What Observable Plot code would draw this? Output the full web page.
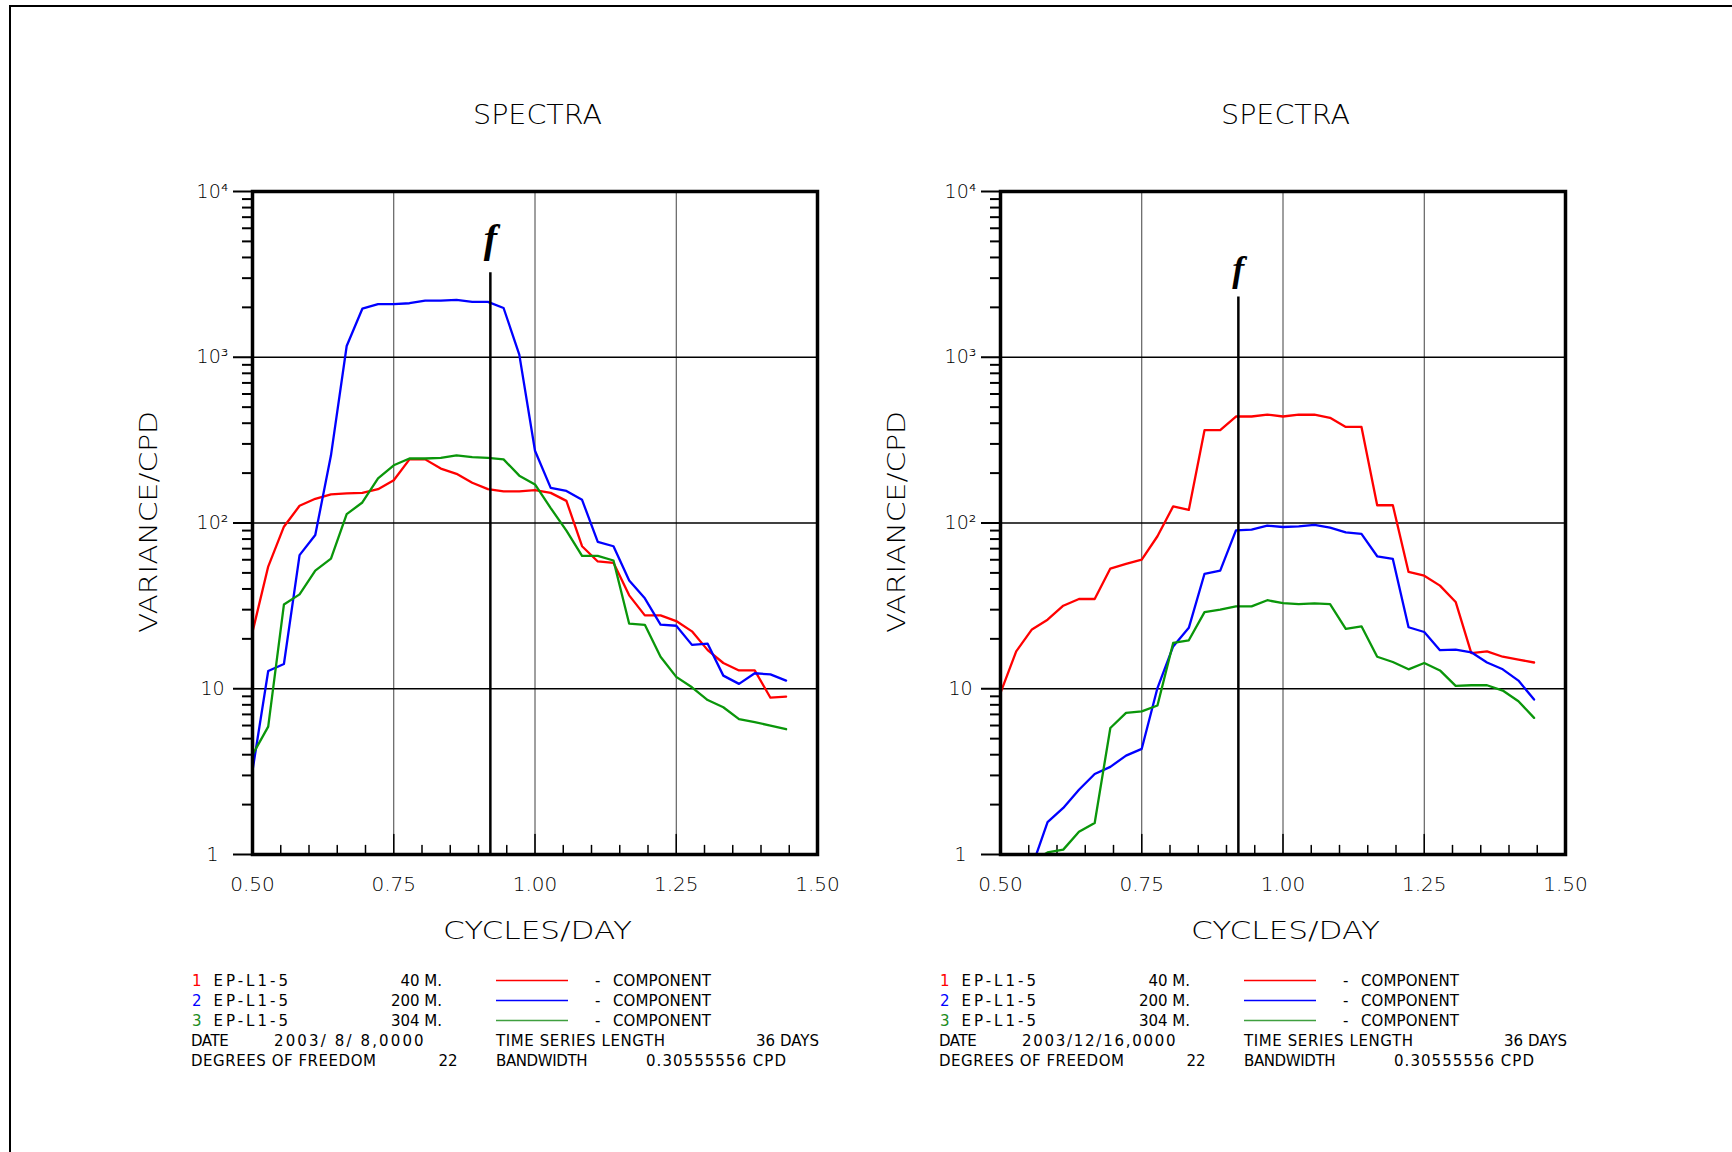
<!DOCTYPE html>
<html>
<head>
<meta charset="utf-8">
<script src="https://cdn.jsdelivr.net/npm/d3@7"></script>
<script src="https://cdn.jsdelivr.net/npm/@observablehq/plot@0.6"></script>
<style>
html,body{margin:0;padding:0;background:#fff;}
#page{position:relative;width:1732px;height:1152px;overflow:hidden;background:#fff;}
#page svg{max-width:none;}
.plot{position:absolute;}
#overlay{position:absolute;left:0;top:0;}
</style>
</head>
<body>
<div id="page"></div>
<script>
// ---------------- data ----------------
const freqs = [0.5000,0.5278,0.5556,0.5833,0.6111,0.6389,0.6667,0.6944,0.7222,0.7500,
  0.7778,0.8056,0.8333,0.8611,0.8889,0.9167,0.9444,0.9722,1.0000,1.0278,
  1.0556,1.0833,1.1111,1.1389,1.1667,1.1944,1.2222,1.2500,1.2778,1.3056,
  1.3333,1.3611,1.3889,1.4167,1.4444];

// panel 1 (2003/8/8)
const augRed   = [22.0,54.6,95,127,140,149,151,152,160,181,242,242,213,198,175,160,155,155,158,152,136,72.4,58.6,57.5,36.6,27.7,27.7,25.6,22.2,17.1,14.3,12.9,12.9,8.83,8.96];
const augBlue  = [3.2,12.8,14.1,64,84.7,256,1169,1963,2089,2089,2118,2198,2198,2218,2158,2158,1982,1038,273,163,156,138,76.9,72.4,45.0,35.1,24.4,24.0,18.4,18.7,12.0,10.7,12.4,12.2,11.2];
const augGreen = [3.99,5.91,32.2,37.1,51.6,61.0,113,133,186,223,245,245,247,256,250,247,242,193,171,123,90,63.4,63.4,59.4,24.7,24.3,15.6,11.8,10.2,8.55,7.73,6.55,6.28,6.0,5.70];

// panel 2 (2003/12/16)
const decRed   = [9.44,16.8,22.8,26.1,31.7,34.8,34.8,53.1,56.6,60.2,83.2,126,120,363,363,439,439,451,439,451,450,431,380,380,128,128,50.7,48.1,41.9,33.4,16.4,16.8,15.6,15.0,14.4];
const decBlue  = [null,null,0.84,1.57,1.91,2.46,3.06,3.38,3.95,4.34,10.1,18.0,23.3,49.4,51.6,90.3,91.2,96.3,94.6,95.5,97.3,93.7,87.8,85.9,63.0,60.7,23.5,22.0,17.1,17.2,16.6,14.4,13.1,11.2,8.61];
const decGreen = [null,null,0.9,1.03,1.07,1.37,1.55,5.8,7.15,7.31,7.92,18.9,19.6,29.0,30.0,31.4,31.4,34.2,32.9,32.4,32.7,32.4,23.0,23.8,15.6,14.5,13.1,14.3,12.9,10.4,10.5,10.5,9.75,8.41,6.67];

const seriesNames  = ["1", "2", "3"];
const seriesColors = ["#ff0000", "#0000ff", "#0a960a"];
const legendColors = ["#ff0000", "#0000ff", "#1c8c1c"];
const legendLineColors = ["#ff0000", "#0000ff", "#3f9f3f"];
const stations = ["EP-L1-5", "EP-L1-5", "EP-L1-5"];
const depths   = ["40 M.", "200 M.", "304 M."];
const dates    = ["2003/ 8/ 8,0000", "2003/12/16,0000"];
const seriesLength = "36 DAYS";
const dof = "22";
const bandwidth = "0.30555556 CPD";

const xTicks = [0.5, 0.75, 1.0, 1.25, 1.5];
const xGrid  = [0.75, 1.0, 1.25];
const xMinor = [0.55,0.6,0.65,0.7,0.8,0.85,0.9,0.95,1.05,1.1,1.15,1.2,1.3,1.35,1.4,1.45];
const yTicks = [1, 10, 100, 1000, 10000];
const yTickLabels = ["1", "10", "10²", "10³", "10⁴"];
const yGrid  = [10, 100, 1000];
const yMinor = [2,3,4,5,6,7,8,9,20,30,40,50,60,70,80,90,200,300,400,500,600,700,800,900,2000,3000,4000,5000,6000,7000,8000,9000];

const inertialFreq = 0.921;
const fLineTop = [3230, 2310];
const fLabelY  = [4300, 2870];
const fLabelSize = [40, 36];

const panels = [
  {series: [augRed, augBlue, augGreen], date: dates[0]},
  {series: [decRed, decBlue, decGreen], date: dates[1]}
];

// ---------------- layout ----------------
const FONT = "DejaVu Sans";
const LIGHT = 200;
const frameLefts = [251.5, 999.7];
const frameTop = 191, frameW = 565, frameH = 663;
const mL = 70, mR = 14, mT = 14, mB = 50;
const page = document.getElementById("page");

const tickShape = {draw(ctx, l) { ctx.moveTo(0, 0); ctx.lineTo(0, -l); }};

panels.forEach((p, pi) => {
  const rows = [];
  p.series.forEach((vals, si) => {
    vals.forEach((v, i) => { if (v != null) rows.push({f: freqs[i], v, s: seriesNames[si]}); });
  });
  const chart = Plot.plot({
    width: frameW + mL + mR,
    height: frameH + mT + mB,
    marginLeft: mL, marginRight: mR, marginTop: mT, marginBottom: mB,
    style: {background: "transparent", overflow: "visible", fontFamily: FONT, fontWeight: LIGHT, color: "#000"},
    x: {domain: [0.5, 1.5]},
    y: {type: "log", domain: [1, 10000]},
    color: {domain: seriesNames, range: seriesColors},
    marks: [
      Plot.ruleX(xGrid, {stroke: "#000", strokeWidth: 1, strokeOpacity: 0.75}),
      Plot.ruleY(yGrid, {stroke: "#000", strokeWidth: 1.6}),
      Plot.axisY({ticks: yTicks, tickSize: 19, tickFormat: () => "", strokeWidth: 2, label: null}),
      Plot.axisY({ticks: yMinor, tickSize: 10, tickFormat: () => "", strokeWidth: 2, label: null}),
      Plot.text(yTicks, {y: d => d, text: (d, i) => yTickLabels[i], frameAnchor: "left", dx: -40, textAnchor: "middle", fontSize: 19, fontWeight: LIGHT, fill: "#000"}),
      Plot.axisX({ticks: xTicks, tickSize: 0, tickPadding: 22, tickFormat: d3.format(".2f"), fontSize: 20, fontWeight: LIGHT, label: null}),
      Plot.vector(xMinor, {x: d => d, y: () => 1, length: 9, anchor: "start", shape: tickShape, stroke: "#000", strokeWidth: 1.5}),
      Plot.vector(xGrid, {x: d => d, y: () => 1, length: 20, anchor: "start", shape: tickShape, stroke: "#000", strokeWidth: 1.5}),
      Plot.line(rows, {x: "f", y: "v", stroke: "s", strokeWidth: 2.3, clip: true}),
      Plot.ruleX([inertialFreq], {y1: 1, y2: fLineTop[pi], stroke: "#000", strokeWidth: 2.5}),
      Plot.text([inertialFreq], {x: d => d, y: () => fLabelY[pi], text: () => "f", fontFamily: "Liberation Serif", fontStyle: "italic", fontWeight: "bold", fontSize: fLabelSize[pi], lineAnchor: "bottom", textAnchor: "middle", fill: "#000"}),
      Plot.frame({stroke: "#000", strokeWidth: 3.5})
    ]
  });
  chart.classList.add("plot");
  chart.style.left = (frameLefts[pi] - mL) + "px";
  chart.style.top = (frameTop - mT) + "px";
  page.appendChild(chart);
});

// ---------------- overlay text (titles, axis titles, legend) ----------------
function txt(x, y, s, o = {}) {
  const size = o.size || 15;
  const anchor = o.anchor || "start";
  const fill = o.fill || "#000";
  const weight = o.weight || 400;
  const tl = o.len ? ` textLength="${o.len}" lengthAdjust="${o.adj || "spacing"}"` : "";
  const tr = o.rotate ? ` transform="translate(${x},${y}) rotate(${o.rotate})"` : "";
  const pos = o.rotate ? ` x="0" y="0"` : ` x="${x}" y="${y}"`;
  return `<text${pos}${tr} font-family="${FONT}" font-weight="${weight}" font-size="${size}" text-anchor="${anchor}" fill="${fill}"${tl}>${s}</text>`;
}
let svg = `<svg id="overlay" width="1732" height="1152" xmlns="http://www.w3.org/2000/svg">`;
svg += `<path d="M1732,6H10V1152" fill="none" stroke="#000" stroke-width="2"/>`;
const offsets = [0, 748];
offsets.forEach((o, pi) => {
  svg += txt(537.5 + o, 124, "SPECTRA", {size: 27, anchor: "middle", len: 129, adj: "spacingAndGlyphs", weight: LIGHT});
  svg += txt(537.5 + o, 939, "CYCLES/DAY", {size: 24, anchor: "middle", len: 189, adj: "spacingAndGlyphs", weight: LIGHT});
  svg += txt(156.7 + o, 522, "VARIANCE/CPD", {size: 25, anchor: "middle", len: 222, adj: "spacingAndGlyphs", rotate: -90, weight: LIGHT});
  const base = [986, 1006, 1026, 1046, 1065.5];
  for (let r = 0; r < 3; r++) {
    svg += txt(192 + o, base[r], seriesNames[r], {fill: legendColors[r]});
    svg += txt(213.4 + o, base[r], stations[r], {len: 74.6});
    svg += txt(442 + o, base[r], depths[r], {anchor: "end"});
    svg += `<line x1="${496 + o}" x2="${568 + o}" y1="${base[r] - 5.5}" y2="${base[r] - 5.5}" stroke="${legendLineColors[r]}" stroke-width="1.5"/>`;
    svg += txt(595 + o, base[r], "-");
    svg += txt(613 + o, base[r], "COMPONENT", {len: 98});
  }
  svg += txt(191 + o, base[3], "DATE", {len: 37.7});
  svg += txt(274 + o, base[3], panels[pi].date, {len: pi === 0 ? 149.6 : 153.5});
  svg += txt(496 + o, base[3], "TIME SERIES LENGTH", {len: 169});
  svg += txt(819 + o, base[3], seriesLength, {anchor: "end"});
  svg += txt(191 + o, base[4], "DEGREES OF FREEDOM", {len: 185});
  svg += txt(457.5 + o, base[4], dof, {anchor: "end"});
  svg += txt(496 + o, base[4], "BANDWIDTH", {len: 91.5});
  svg += txt(646 + o, base[4], bandwidth, {len: 140});
});
svg += `</svg>`;
page.insertAdjacentHTML("beforeend", svg);
</script>
</body>
</html>
